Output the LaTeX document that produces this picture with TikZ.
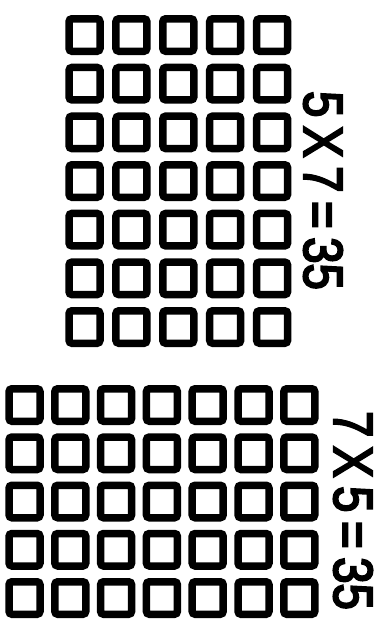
\documentclass[tikz,border=0pt]{standalone}
\usepackage{fontspec}
\setmainfont{Liberation Sans}
\newfontfamily\lblfont[FakeBold=4]{Liberation Sans}
\begin{document}
\begin{tikzpicture}[x=1pt,y=-1pt,
  sq/.style={draw,line width=7.5pt,rounded corners=3pt,minimum width=31pt,minimum height=32.5pt,inner sep=0pt},
  lbl/.style={rotate=-90,font=\fontsize{55}{55}\lblfont,inner sep=0pt}]
\useasboundingbox (0,0) rectangle (382,622);
\foreach \c in {0,...,4} \foreach \r in {0,...,6}
  \node[sq] (t-\c-\r) at ({84.5+\c*46.9},{35+\r*48.67}) {};
\foreach \c in {0,...,6} \foreach \r in {0,...,4}
  \node[sq] (b-\c-\r) at ({24.5+\c*45.8},{405+\r*48.25}) {};
\node[lbl] (eq1) at (323,190.5) {\scalebox{0.86}[1]{5\kern10pt X\kern10pt 7\kern10pt =\kern10pt 35}};
\node[lbl] (eq2) at (353,510.5) {\scalebox{0.86}[1]{7\kern10pt X\kern10pt 5\kern10pt =\kern10pt 35}};
\end{tikzpicture}
\end{document}
